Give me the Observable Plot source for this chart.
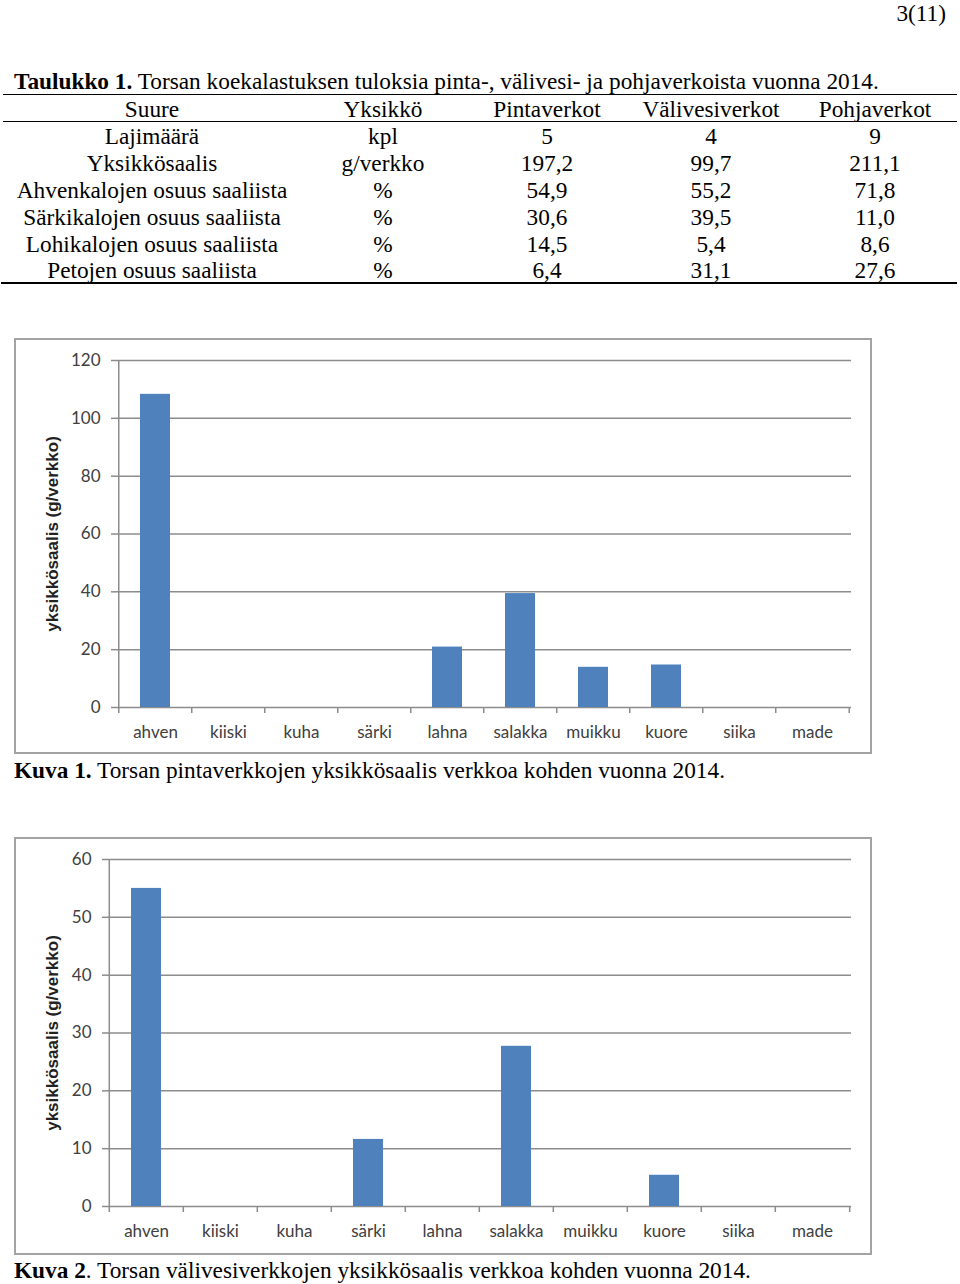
<!DOCTYPE html>
<html>
<head>
<meta charset="utf-8">
<script src="https://cdn.jsdelivr.net/npm/d3@7"></script>
<script src="https://cdn.jsdelivr.net/npm/@observablehq/plot@0.6"></script>
<style>
  html, body { margin: 0; padding: 0; background: #fff; }
  body { position: relative; width: 960px; height: 1284px; overflow: hidden; font-family: "Liberation Serif", "Times New Roman", serif; color: #000; }
  .t { position: absolute; font-size: 23.3px; line-height: 26px; white-space: nowrap; }
  .c { text-align: center; width: 320px; }
  .hr { position: absolute; background: #000; }
  .box { position: absolute; box-sizing: border-box; border: 2px solid #a3a3a3; background: #fff; }
  .box svg { position: absolute; left: 0; top: 0; }
</style>
</head>
<body>
<div id="page"></div>
<script>
// ---- Table data ----
const tableTitleBold = "Taulukko 1.";
const tableTitleRest = " Torsan koekalastuksen tuloksia pinta-, välivesi- ja pohjaverkoista vuonna 2014.";
const tableHeader = ["Suure", "Yksikkö", "Pintaverkot", "Välivesiverkot", "Pohjaverkot"];
const suure = ["Lajimäärä", "Yksikkösaalis", "Ahvenkalojen osuus saaliista", "Särkikalojen osuus saaliista", "Lohikalojen osuus saaliista", "Petojen osuus saaliista"];
const yksikko = ["kpl", "g/verkko", "%", "%", "%", "%"];
const pintaverkot = ["5", "197,2", "54,9", "30,6", "14,5", "6,4"];
const valivesiverkot = ["4", "99,7", "55,2", "39,5", "5,4", "31,1"];
const pohjaverkot = ["9", "211,1", "71,8", "11,0", "8,6", "27,6"];

// ---- Chart data ----
const species = ["ahven", "kiiski", "kuha", "särki", "lahna", "salakka", "muikku", "kuore", "siika", "made"];
const pintaSaalis = [108.3, 0, 0, 0, 20.9, 39.4, 13.9, 14.7, 0, 0];
const valiSaalis = [55.0, 0, 0, 11.6, 0, 27.7, 0, 5.4, 0, 0];
const yLabel = "yksikkösaalis (g/verkko)";
const ticks1 = [0, 20, 40, 60, 80, 100, 120];
const ticks2 = [0, 10, 20, 30, 40, 50, 60];
const caption1Bold = "Kuva 1.";
const caption1Rest = " Torsan pintaverkkojen yksikkösaalis verkkoa kohden vuonna 2014.";
const caption2Bold = "Kuva 2";
const caption2Rest = ". Torsan välivesiverkkojen yksikkösaalis verkkoa kohden vuonna 2014.";

const page = document.getElementById("page");
function addText(html, left, cy, cls = "") {
  const d = document.createElement("div");
  d.className = "t " + cls;
  d.innerHTML = html;
  d.style.left = left + "px";
  d.style.top = (cy - 12) + "px";
  page.appendChild(d);
  return d;
}
function addLine(x, y, w, h) {
  const d = document.createElement("div");
  d.className = "hr";
  Object.assign(d.style, {left: x + "px", top: y + "px", width: w + "px", height: h + "px"});
  page.appendChild(d);
}

// page number
const pn = addText("3(11)", 0, 12);
pn.style.left = "auto"; pn.style.right = "14px";

// table
addText("<b>" + tableTitleBold + "</b>" + tableTitleRest, 14, 80);
addLine(3, 94, 954, 1);
addLine(3, 121, 954, 1);
addLine(1, 282, 956, 2);
const colCenters = [152, 383, 547, 711, 875];
const rowY0 = 108, rowStep = 26.9;
tableHeader.forEach((h, j) => addText(h, colCenters[j] - 160, rowY0, "c"));
const cols = [suure, yksikko, pintaverkot, valivesiverkot, pohjaverkot];
cols.forEach((col, j) => col.forEach((v, i) => addText(v, colCenters[j] - 160, rowY0 + rowStep * (i + 1), "c")));

// charts
function makeChart({values, ticks, yMax, marginLeft, height, marginBottom, labelDx}) {
  const data = species.map((s, i) => ({species: s, value: values[i]}));
  const plotW = 854 - marginLeft - 19;
  const step = plotW / species.length;
  const grey = "#8c8c8c";
  return Plot.plot({
    width: 854, height,
    marginTop: 20, marginRight: 19, marginLeft, marginBottom,
    style: {fontFamily: "Lato, 'Open Sans', sans-serif", fontSize: "17px", background: "transparent", color: "#404040"},
    x: {domain: species, paddingInner: 0.59, paddingOuter: 0.295, axis: null},
    y: {domain: [0, yMax], axis: null},
    marks: [
      Plot.ruleY(ticks, {stroke: grey, strokeWidth: 1.5}),
      Plot.ruleX(species, {x: d => d, dx: -step / 2, y1: () => 0, y2: () => 0, insetBottom: -6, stroke: grey, strokeWidth: 1.5}),
      Plot.ruleX([species[species.length - 1]], {x: d => d, dx: step / 2, y1: () => 0, y2: () => 0, insetBottom: -6, stroke: grey, strokeWidth: 1.5}),
      Plot.ruleX([species[0]], {x: d => d, dx: -step / 2, y1: () => 0, y2: () => yMax, stroke: grey, strokeWidth: 1.5}),
      Plot.barY(data.filter(d => d.value > 0), {x: "species", y: "value", fill: "#4f81bd"}),
      Plot.axisY({ticks, tickSize: 5, tickPadding: 11, stroke: grey, strokeWidth: 1.5, fill: "#404040", label: null, tickFormat: d => d}),
      Plot.axisX({tickSize: 0, tickPadding: 18, label: null, fill: "#404040"}),
      Plot.text([yLabel], {text: d => d, frameAnchor: "left", textAnchor: "middle", dx: -labelDx, rotate: -90, fontFamily: "'Liberation Sans', Arial, sans-serif", fontWeight: "bold", fontSize: 17, fill: "#222"})
    ]
  });
}
function addBox(left, top, w, h, svg) {
  const b = document.createElement("div");
  b.className = "box";
  Object.assign(b.style, {left: left + "px", top: top + "px", width: w + "px", height: h + "px"});
  b.appendChild(svg);
  page.appendChild(b);
}
addBox(14, 338, 858, 416, makeChart({values: pintaSaalis, ticks: ticks1, yMax: 120, marginLeft: 100, height: 412, marginBottom: 45, labelDx: 64}));
addText("<b>" + caption1Bold + "</b>" + caption1Rest, 14, 769);
addBox(14, 837, 858, 418, makeChart({values: valiSaalis, ticks: ticks2, yMax: 60, marginLeft: 91, height: 414, marginBottom: 47, labelDx: 55}));
addText("<b>" + caption2Bold + "</b>" + caption2Rest, 14, 1269);
</script>
</body>
</html>
